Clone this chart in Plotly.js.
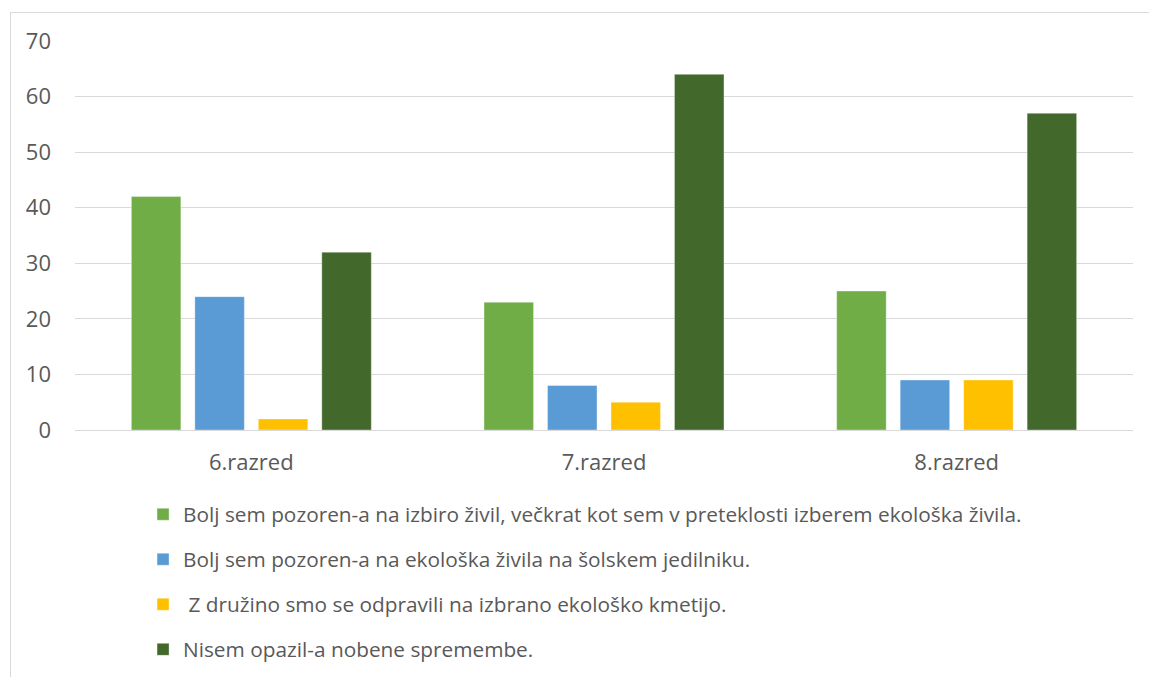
<!DOCTYPE html>
<html>
<head>
<meta charset="utf-8">
<script src="https://cdn.plot.ly/plotly-3.0.1.min.js"></script>
<style>
html,body{margin:0;padding:0;background:#fff;overflow:hidden;}
#frame{position:absolute;left:10px;top:12px;width:1300px;height:800px;border:1px solid #D9D9D9;box-sizing:border-box;}
#chart{position:absolute;left:0;top:0;width:1149px;height:677px;}
</style>
</head>
<body>
<div id="frame"></div>
<div id="chart"></div>
<script>
const categories = ["6.razred", "7.razred", "8.razred"];
const seriesNames = [
  "Bolj sem pozoren-a na izbiro živil, večkrat kot sem v preteklosti izberem ekološka živila.",
  "Bolj sem pozoren-a na ekološka živila na šolskem jedilniku.",
  " Z družino smo se odpravili na izbrano ekološko kmetijo.",
  "Nisem opazil-a nobene spremembe."
];
const seriesA = [42, 23, 25];
const seriesB = [24, 8, 9];
const seriesC = [2, 5, 9];
const seriesD = [32, 64, 57];
const colors = ["#70AD47", "#5B9BD5", "#FFC000", "#43682B"];
const yTicks = [0, 10, 20, 30, 40, 50, 60, 70];

const values = [seriesA, seriesB, seriesC, seriesD];
const traces = values.map((v, i) => ({
  type: "bar",
  x: categories,
  y: v,
  name: seriesNames[i],
  legendgroup: "g" + i,
  marker: {color: colors[i], line: {color: "rgba(255,255,255,0.6)", width: 0.6}},
  hoverinfo: "y"
}));

const fam = "'Open Sans', sans-serif";

Plotly.newPlot("chart", traces, {
  width: 1149, height: 677,
  margin: {l: 75, r: 16, t: 41, b: 247, autoexpand: false},
  paper_bgcolor: "rgba(0,0,0,0)",
  plot_bgcolor: "rgba(0,0,0,0)",
  font: {family: fam, size: 18, color: "#595959"},
  barmode: "group",
  bargap: 0.28,
  bargroupgap: 0.22,
  showlegend: true,
  legend: {
    orientation: "v", xref: "container", x: 0.1245, xanchor: "left",
    yref: "container", y: 0.27, yanchor: "top",
    font: {family: fam, size: 20.8, color: "#595959"},
    tracegroupgap: 15, traceorder: "grouped", bgcolor: "rgba(0,0,0,0)"
  },
  xaxis: {
    type: "category", showgrid: false, zeroline: false, showline: false,
    ticks: "", ticklabelstandoff: 17, tickfont: {family: fam, size: 22, color: "#595959"}
  },
  yaxis: {
    range: [0, 70], tickvals: yTicks, ticktext: yTicks.map(String),
    showgrid: true, gridcolor: "#D9D9D9", gridwidth: 1,
    zeroline: true, zerolinecolor: "#D9D9D9", zerolinewidth: 1,
    showline: false, ticks: "", ticklabelstandoff: 23,
    tickfont: {family: fam, size: 22, color: "#595959"}
  }
}, {displayModeBar: false, staticPlot: true});
</script>
</body>
</html>
